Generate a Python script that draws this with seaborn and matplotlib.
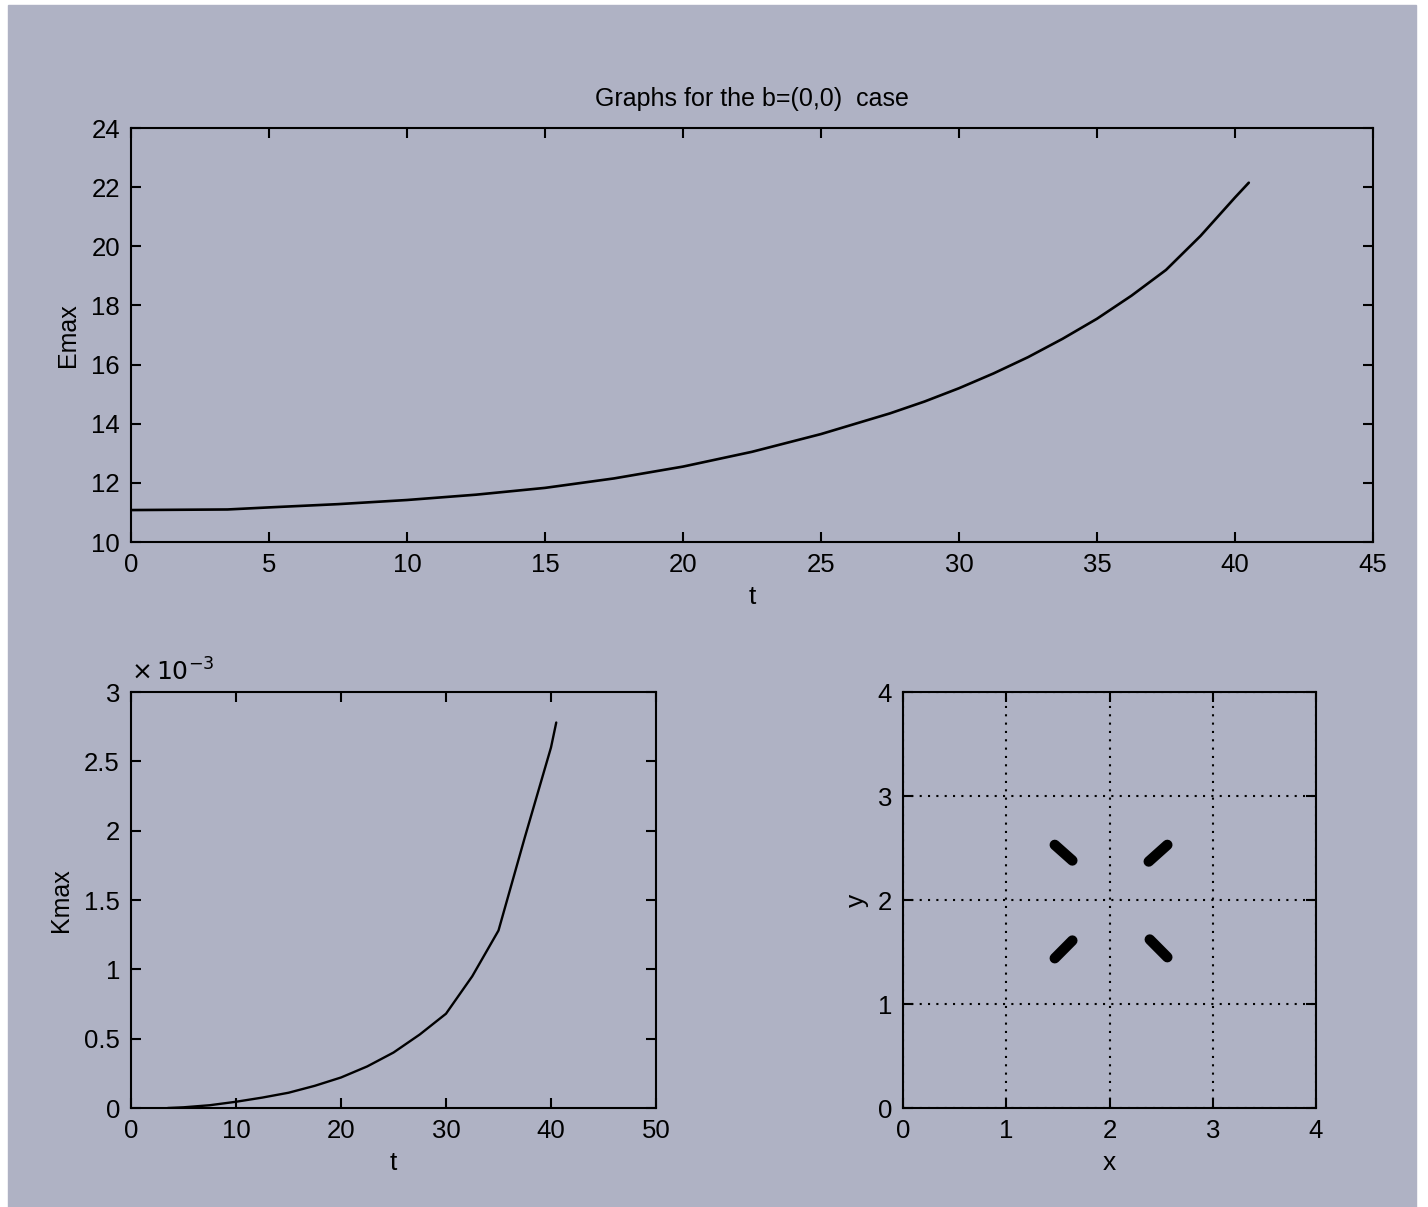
import matplotlib
matplotlib.use("Agg")
import matplotlib.pyplot as plt
import seaborn as sns
import pandas as pd

# ---- data ----
t_E = [0, 3.5, 5, 7.5, 10, 12.5, 15, 17.5, 20, 22.5, 25, 27.5, 28.75, 30, 31.25, 32.5,
       33.75, 35, 36.25, 37.5, 38.75, 40, 40.5]
E_max = [11.08, 11.1, 11.17, 11.28, 11.42, 11.6, 11.83, 12.15, 12.55, 13.05, 13.65, 14.35,
         14.75, 15.2, 15.7, 16.25, 16.87, 17.55, 18.33, 19.2, 20.35, 21.65, 22.15]

t_K = [3.5, 5, 7.5, 10, 12.5, 15, 17.5, 20, 22.5, 25, 27.5, 30, 32.5, 35, 37.5, 40, 40.5]
K_max_e3 = [0.0, 0.005, 0.02, 0.045, 0.075, 0.11, 0.16, 0.22, 0.3, 0.4, 0.53, 0.68, 0.95, 1.28, 1.95, 2.6, 2.78]

# four short segments in the x-y plane: (x0, y0, x1, y1)
seg_x0 = [1.47, 2.38, 1.47, 2.39]
seg_y0 = [2.53, 2.37, 1.44, 1.62]
seg_x1 = [1.64, 2.56, 1.64, 2.56]
seg_y1 = [2.38, 2.53, 1.61, 1.45]

title = "Graphs for the b=(0,0)  case"

# ---- style ----
BG = "#AFB2C4"
sns.set_style("ticks")
plt.rcParams["font.family"] = ["Liberation Sans", "DejaVu Sans"]
plt.rcParams.update({
    "axes.facecolor": BG,
    "figure.facecolor": "white",
    "axes.edgecolor": "black",
    "axes.linewidth": 1.5,
    "xtick.direction": "in",
    "ytick.direction": "in",
    "xtick.top": True,
    "ytick.right": True,
    "xtick.color": "black",
    "ytick.color": "black",
    "text.color": "black",
    "axes.labelcolor": "black",
    "font.size": 18,
})

W, H = 1428, 1207
fig = plt.figure(figsize=(W / 100, H / 100), dpi=100)
# grey panel with white border
fig.patches.append(plt.Rectangle((8 / W, 0), (1416 - 8) / W, (1207 - 5) / H,
                                 transform=fig.transFigure, color=BG, zorder=-10))

def ax_rect(l, t, r, b):
    return [l / W, 1 - b / H, (r - l) / W, (b - t) / H]

ax1 = fig.add_axes(ax_rect(131, 128, 1373, 542))
ax2 = fig.add_axes(ax_rect(131, 692, 656, 1108))
ax3 = fig.add_axes(ax_rect(903, 692, 1316, 1108))
for ax in (ax1, ax2, ax3):
    ax.set_facecolor("none")
    for s in ax.spines.values():
        s.set_visible(True)
        s.set_linewidth(1.5)
    ax.tick_params(which="major", length=7, width=1.5, labelsize=18.5, pad=8)

# top plot
dfE = pd.DataFrame({"t": t_E, "E": E_max})
sns.lineplot(data=dfE, x="t", y="E", ax=ax1, color="black", linewidth=1.9)
ax1.set_xlim(0, 45)
ax1.set_ylim(10, 24)
ax1.set_xticks(range(0, 46, 5))
ax1.set_yticks(range(10, 25, 2))
ax1.set_xlabel("t", fontsize=19, labelpad=6)
ax1.set_ylabel("Emax", fontsize=18, labelpad=8)
ax1.set_title(title, fontsize=18, pad=16)

# bottom left
dfK = pd.DataFrame({"t": t_K, "K": K_max_e3})
sns.lineplot(data=dfK, x="t", y="K", ax=ax2, color="black", linewidth=1.7)
ax2.set_xlim(0, 50)
ax2.set_ylim(0, 3)
ax2.set_xticks(range(0, 51, 10))
ax2.set_yticks([0, 0.5, 1, 1.5, 2, 2.5, 3])
ax2.set_yticklabels(["0", "0.5", "1", "1.5", "2", "2.5", "3"])
ax2.set_xlabel("t", fontsize=19, labelpad=6)
ax2.set_ylabel("Kmax", fontsize=18, labelpad=8)
ax2.text(0, 1.015, r"$\times\,10^{-3}$", transform=ax2.transAxes, fontsize=18,
         ha="left", va="bottom")

# bottom right
for x0, y0, x1, y1 in zip(seg_x0, seg_y0, seg_x1, seg_y1):
    dseg = pd.DataFrame({"x": [x0, x1], "y": [y0, y1]})
    sns.lineplot(data=dseg, x="x", y="y", ax=ax3, color="black", linewidth=7.5,
                 solid_capstyle="round", sort=False)
ax3.set_xlim(0, 4)
ax3.set_ylim(0, 4)
ax3.set_xticks(range(5))
ax3.set_yticks(range(5))
ax3.grid(True, color="black", linestyle=(0, (1, 3)), linewidth=1.5)
ax3.set_xlabel("x", fontsize=19, labelpad=6)
ax3.set_ylabel("y", fontsize=19, labelpad=6)

fig.savefig("out.png", dpi=100, facecolor="white")
